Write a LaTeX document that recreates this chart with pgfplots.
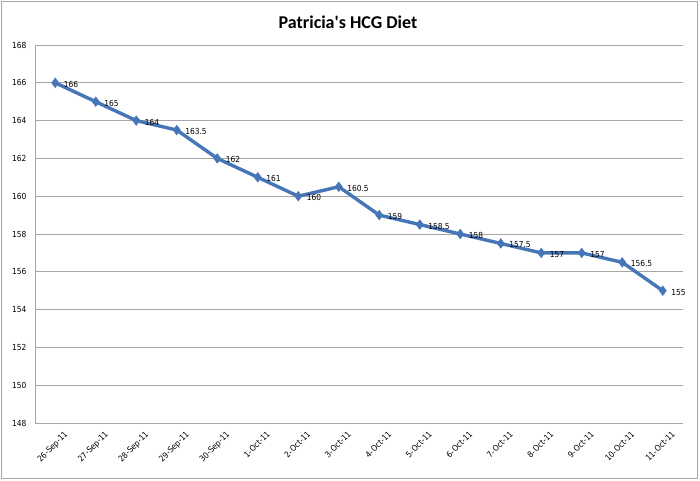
\documentclass[border=0pt]{standalone}
\usepackage{pgfplots}
\pgfplotsset{compat=1.18}
\usepackage{fontspec}
\setmainfont{Carlito}
\newfontfamily\tahoma{DejaVu Sans Condensed}
\definecolor{serblue}{HTML}{4675B8}
\definecolor{gridgray}{HTML}{A6A6A6}
\pgfplotstableread{
x y
0 166
1 165
2 164
3 163.5
4 162
5 161
6 160
7 160.5
8 159
9 158.5
10 158
11 157.5
12 157
13 157
14 156.5
15 155
}\datatable
\begin{document}
\begin{tikzpicture}[x=1pt,y=1pt]
\path[use as bounding box] (0,0) rectangle (700,480);
\draw[gridgray, line width=0.8pt] (1,2) rectangle (697,479);
\node[font=\fontsize{18}{20}\selectfont\bfseries] at (348,458) {Patricia\textquotesingle s HCG Diet};
\begin{axis}[
  at={(35pt,57pt)}, anchor=south west,
  scale only axis, width=648pt, height=378pt,
  xmin=-0.5, xmax=15.5, ymin=148, ymax=168,
  ytick={148,150,...,168},
  xtick={0,...,15},
  xticklabels={26-Sep-11,27-Sep-11,28-Sep-11,29-Sep-11,30-Sep-11,1-Oct-11,2-Oct-11,3-Oct-11,4-Oct-11,5-Oct-11,6-Oct-11,7-Oct-11,8-Oct-11,9-Oct-11,10-Oct-11,11-Oct-11},
  xticklabel style={rotate=45, anchor=north east, font=\tahoma\fontsize{8.3}{9}\selectfont, xshift=4pt, yshift=-8pt},
  yticklabel style={font=\tahoma\fontsize{8.3}{9}\selectfont, xshift=-5pt},
  /pgf/number format/assume math mode=true,
  axis x line*=bottom, axis y line*=left,
  axis line style={gridgray, line width=0.8pt},
  ymajorgrids, major grid style={gridgray, line width=0.8pt},
  major tick length=0pt,
  tick style={draw=none},
  clip=false,
]
\addplot[serblue, line width=3.4pt, mark=diamond*, mark size=4.8pt, mark options={fill=serblue, line width=0.5pt},
  nodes near coords, point meta=explicit symbolic,
  every node near coord/.append style={font=\tahoma\fontsize{8.3}{9}\selectfont, color=black, anchor=west, xshift=5pt, yshift=-1.5pt}]
  table[x=x, y=y, meta=y] {\datatable};
\end{axis}
\end{tikzpicture}
\end{document}
